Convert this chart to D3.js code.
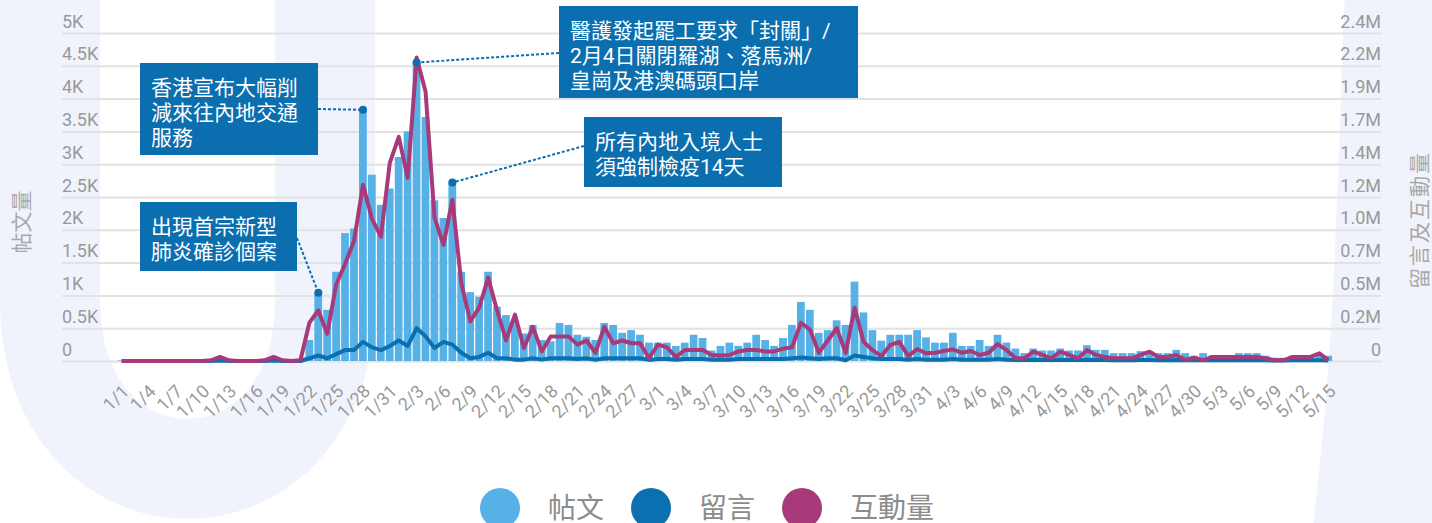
<!DOCTYPE html>
<html>
<head>
<meta charset="utf-8">
<script src="https://cdn.jsdelivr.net/npm/d3@7"></script>
<style>
  html, body { margin: 0; padding: 0; background: #fff; }
  svg { display: block; }
  text { font-family: Roboto, "Noto Sans CJK TC", sans-serif; }
</style>
</head>
<body>
<svg id="chart" width="1432" height="523"></svg>
<script>
// ---- data ----
const seriesNames = ['帖文', '留言', '互動量'];

// daily posts (left axis), 1/1 .. 5/15
const posts = [
  10, 10, 10, 10, 10, 10, 10, 10, 10, 10,
  20, 50, 20, 10, 10, 10, 20, 50, 20, 10,
  20, 320, 1040, 780, 1360, 1950, 2020, 3830, 2840, 2380,
  2630, 3110, 3500, 4550, 3720, 2450, 2180, 2720, 1360, 1050,
  980, 1360, 830, 700, 600, 420, 550, 320, 300, 580,
  550, 400, 370, 320, 580, 550, 430, 470, 400, 280,
  280, 280, 230, 280, 400, 350, 160, 230, 280, 230,
  280, 400, 320, 230, 350, 550, 900, 780, 430, 470,
  620, 550, 1210, 740, 470, 310, 400, 400, 400, 470,
  360, 280, 280, 430, 230, 230, 320, 230, 400, 280,
  190, 120, 190, 160, 160, 190, 160, 160, 240, 170,
  170, 120, 120, 120, 150, 150, 120, 120, 170, 120,
  80, 120, 80, 80, 80, 120, 120, 120, 80, 50,
  50, 80, 80, 80, 80, 80
];

// daily comments (right axis)
const comments = [
  0, 0, 0, 0, 0, 0, 0, 0, 0, 0,
  0, 4000, 0, 0, 0, 0, 0, 4000, 0, 0,
  0, 20000, 40000, 20000, 50000, 80000, 80000, 140000, 100000, 80000,
  110000, 150000, 110000, 240000, 180000, 95000, 140000, 120000, 60000, 20000,
  30000, 60000, 20000, 20000, 10000, 10000, 20000, 10000, 20000, 20000,
  20000, 15000, 20000, 8000, 20000, 20000, 20000, 20000, 20000, 8000,
  15000, 15000, 10000, 15000, 15000, 15000, 10000, 10000, 10000, 15000,
  15000, 15000, 15000, 15000, 15000, 20000, 25000, 20000, 15000, 20000,
  20000, 5000, 40000, 30000, 20000, 15000, 15000, 15000, 10000, 15000,
  10000, 10000, 10000, 15000, 10000, 10000, 10000, 10000, 15000, 10000,
  8000, 8000, 10000, 8000, 8000, 10000, 8000, 8000, 10000, 8000,
  8000, 5000, 5000, 5000, 8000, 8000, 5000, 5000, 8000, 5000,
  5000, 5000, 5000, 5000, 5000, 5000, 5000, 5000, 5000, 3000,
  3000, 5000, 5000, 5000, 5000, 3000
];

// daily interactions (right axis)
const interactions = [
  0, 0, 0, 0, 0, 0, 0, 0, 0, 0,
  5000, 30000, 5000, 0, 0, 0, 5000, 30000, 5000, 0,
  5000, 280000, 370000, 200000, 560000, 710000, 880000, 1290000, 1040000, 910000,
  1450000, 1640000, 1340000, 2220000, 1970000, 1050000, 850000, 1180000, 570000, 290000,
  390000, 610000, 370000, 150000, 340000, 95000, 250000, 70000, 180000, 180000,
  180000, 120000, 150000, 60000, 250000, 130000, 150000, 130000, 130000, 20000,
  120000, 100000, 30000, 80000, 80000, 80000, 44000, 40000, 44000, 70000,
  80000, 80000, 70000, 70000, 90000, 100000, 280000, 230000, 60000, 150000,
  240000, 60000, 390000, 140000, 80000, 36000, 117000, 140000, 36000, 88000,
  56000, 60000, 73000, 85000, 60000, 73000, 44000, 60000, 124000, 80000,
  20000, 20000, 68000, 44000, 20000, 68000, 44000, 20000, 80000, 44000,
  30000, 20000, 20000, 20000, 44000, 68000, 30000, 30000, 44000, 7000,
  25000, 5000, 30000, 30000, 30000, 30000, 30000, 30000, 20000, 5000,
  5000, 30000, 30000, 30000, 56000, 7000
];

const xTickLabels = [
  '1/1', '1/4', '1/7', '1/10', '1/13', '1/16', '1/19', '1/22', '1/25', '1/28', '1/31',
  '2/3', '2/6', '2/9', '2/12', '2/15', '2/18', '2/21', '2/24', '2/27',
  '3/1', '3/4', '3/7', '3/10', '3/13', '3/16', '3/19', '3/22', '3/25', '3/28', '3/31',
  '4/3', '4/6', '4/9', '4/12', '4/15', '4/18', '4/21', '4/24', '4/27', '4/30',
  '5/3', '5/6', '5/9', '5/12', '5/15'
];

const leftTickValues = [0, 500, 1000, 1500, 2000, 2500, 3000, 3500, 4000, 4500, 5000];
const leftTickLabels = ['0', '0.5K', '1K', '1.5K', '2K', '2.5K', '3K', '3.5K', '4K', '4.5K', '5K'];
const rightTickValues = [0, 240000, 480000, 720000, 960000, 1200000, 1440000, 1680000, 1920000, 2160000, 2400000];
const rightTickLabels = ['0', '0.2M', '0.5M', '0.7M', '1.0M', '1.2M', '1.4M', '1.7M', '1.9M', '2.2M', '2.4M'];

const leftTitle = '帖文量';
const rightTitle = '留言及互動量';

const annotations = [
  { date: '1/23', lines: ['出現首宗新型', '肺炎確診個案'] },
  { date: '1/28', lines: ['香港宣布大幅削', '減來往內地交通', '服務'] },
  { date: '2/3', lines: ['醫護發起罷工要求「封關」/', '2月4日關閉羅湖、落馬洲/', '皇崗及港澳碼頭口岸'] },
  { date: '2/7', lines: ['所有內地入境人士', '須強制檢疫14天'] }
];

// ---- layout ----
const gridLeft = 62;
const gridRight = 1381;
const plotTop = 33;
const plotBottom = 361;
const barsLeft = 117.2;
const barsRight = 1332.8;

const colors = ['#56b1e6', '#0b70b0', '#a83a7a'];
const boxColor = '#0a6eaf';
const labelColor = '#999999';
const watermarkColor = '#f0f3fc';

// box placement for each annotation: box rect + where the dotted leader leaves it
const annotationBoxes = [
  { x: 140, y: 202, w: 157, h: 69, lx: 297, ly: 238 },
  { x: 140, y: 63, w: 178, h: 92, lx: 318, ly: 109 },
  { x: 559, y: 6, w: 299, h: 92, lx: 559, ly: 53 },
  { x: 584, y: 117, w: 198, h: 70, lx: 584, ly: 146 }
];

const fmtDay = (d) => (d.getMonth() + 1) + '/' + d.getDate();
const days = d3.timeDay.range(new Date(2020, 0, 1), new Date(2020, 4, 16)).map(fmtDay);

const svg = d3.select('#chart');

// faint background logo
const gLogo = svg.append('g');
gLogo.append('path')
  .attr('d', 'M50,-30 L50,300 C50,525 325,525 325,300 L325,-30')
  .attr('fill', 'none')
  .attr('stroke', watermarkColor)
  .attr('stroke-width', 100);
gLogo.append('path')
  .attr('d', 'M1345,-10 C1338,150 1336,350 1312,533 L1442,533 L1442,-10 Z')
  .attr('fill', watermarkColor);

const x = d3.scaleBand().domain(days).range([barsLeft, barsRight]).paddingInner(0);
const yLeft = d3.scaleLinear().domain([0, 5000]).range([plotBottom, plotTop]);
const yRight = d3.scaleLinear().domain([0, 2400000]).range([plotBottom, plotTop]);
const cx = (d) => x(d) + x.bandwidth() / 2;

// grid
const gGrid = svg.append('g').attr('transform', 'translate(' + gridLeft + ',0)');
gGrid.call(d3.axisLeft(yLeft).tickValues(leftTickValues).tickSize(-(gridRight - gridLeft)).tickFormat(''));
gGrid.select('.domain').remove();
gGrid.selectAll('line').attr('stroke', '#e2e2e2').attr('stroke-width', 2);

// bars
svg.append('g').selectAll('rect')
  .data(days)
  .join('rect')
  .attr('x', (d) => x(d) + 0.5)
  .attr('width', x.bandwidth() - 1.2)
  .attr('y', (d, i) => yLeft(posts[i]))
  .attr('height', (d, i) => plotBottom - yLeft(posts[i]))
  .attr('fill', colors[0]);

// lines
const lineOf = (values) => d3.line()
  .x((d) => cx(d))
  .y((d, i) => yRight(values[i]))
  .curve(d3.curveLinear);

svg.append('path')
  .attr('d', lineOf(comments)(days))
  .attr('fill', 'none')
  .attr('stroke', colors[1])
  .attr('stroke-width', 4)
  .attr('stroke-linejoin', 'round');

svg.append('path')
  .attr('d', lineOf(interactions)(days))
  .attr('fill', 'none')
  .attr('stroke', colors[2])
  .attr('stroke-width', 4)
  .attr('stroke-linejoin', 'round');

// left axis labels
const gLeft = svg.append('g').attr('transform', 'translate(' + gridLeft + ',0)');
gLeft.call(d3.axisLeft(yLeft).tickValues(leftTickValues).tickSize(0).tickFormat((d, i) => leftTickLabels[i]));
gLeft.select('.domain').remove();
gLeft.selectAll('text')
  .attr('x', 0).attr('dy', -6)
  .attr('text-anchor', 'start')
  .attr('fill', labelColor)
  .style('font-size', '18px');

// right axis labels
const gRight = svg.append('g').attr('transform', 'translate(' + gridRight + ',0)');
gRight.call(d3.axisRight(yRight).tickValues(rightTickValues).tickSize(0).tickFormat((d, i) => rightTickLabels[i]));
gRight.select('.domain').remove();
gRight.selectAll('text')
  .attr('x', 0).attr('dy', -6)
  .attr('text-anchor', 'end')
  .attr('fill', labelColor)
  .style('font-size', '18px');

// x axis labels
const gX = svg.append('g').attr('transform', 'translate(0,' + plotBottom + ')');
gX.call(d3.axisBottom(x).tickValues(xTickLabels).tickSize(0));
gX.select('.domain').remove();
gX.selectAll('text')
  .attr('x', 0).attr('y', 0).attr('dy', '0.35em')
  .attr('text-anchor', 'end')
  .attr('transform', 'translate(4,27) rotate(-45)')
  .attr('fill', labelColor)
  .style('font-size', '18px');

// axis titles
svg.append('text')
  .attr('transform', 'translate(22,222) rotate(-90)')
  .attr('text-anchor', 'middle')
  .attr('dy', '0.35em')
  .attr('fill', '#a8a8a8')
  .style('font-size', '21px')
  .text(leftTitle);

svg.append('text')
  .attr('transform', 'translate(1420,220) rotate(-90)')
  .attr('text-anchor', 'middle')
  .attr('dy', '0.35em')
  .attr('fill', '#a8a8a8')
  .style('font-size', '21px')
  .style('letter-spacing', '2px')
  .text(rightTitle);

// annotations
const gAnn = svg.append('g');
annotations.forEach((a, k) => {
  const b = annotationBoxes[k];
  const i = days.indexOf(a.date);
  const px = cx(a.date);
  const py = yLeft(posts[i]);

  gAnn.append('line')
    .attr('x1', b.lx).attr('y1', b.ly)
    .attr('x2', px).attr('y2', py)
    .attr('stroke', boxColor)
    .attr('stroke-width', 2)
    .attr('stroke-dasharray', '3,2');
  gAnn.append('circle')
    .attr('cx', px).attr('cy', py).attr('r', 4)
    .attr('fill', boxColor);

  gAnn.append('rect')
    .attr('x', b.x).attr('y', b.y)
    .attr('width', b.w).attr('height', b.h)
    .attr('fill', boxColor);

  gAnn.append('g').selectAll('text')
    .data(a.lines)
    .join('text')
    .attr('x', b.x + 11)
    .attr('y', (d, j) => b.y + 24 + j * 25)
    .attr('dy', '0.38em')
    .attr('fill', '#fff')
    .style('font-size', '21px')
    .text((d) => d);
});

// legend
const gLegend = svg.append('g');
let lx = 500;
seriesNames.forEach((name, k) => {
  gLegend.append('circle')
    .attr('cx', lx).attr('cy', 508).attr('r', 20)
    .attr('fill', colors[k]);
  const t = gLegend.append('text')
    .attr('x', lx + 48).attr('y', 518)
    .attr('fill', '#8c8c8c')
    .style('font-size', '28px')
    .text(name);
  lx = lx + 48 + t.node().getComputedTextLength() + 47;
});
</script>
</body>
</html>
